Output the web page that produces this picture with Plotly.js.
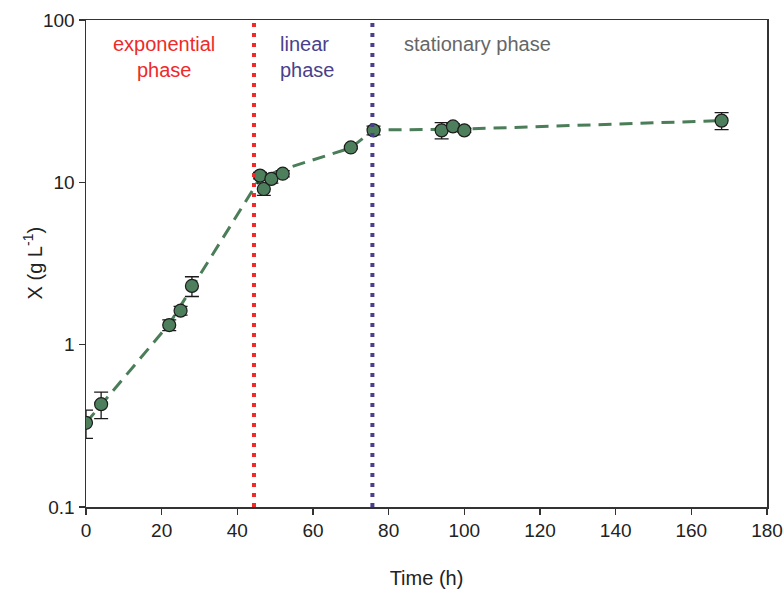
<!DOCTYPE html>
<html>
<head>
<meta charset="utf-8">
<script src="https://cdn.plot.ly/plotly-3.0.1.min.js"></script>
<style>html,body{margin:0;padding:0;background:#fff;}#chart{width:784px;height:591px;}</style>
</head>
<body>
<div id="chart"></div>
<script>
// Measured biomass (g/L)
const timeH = [0, 4, 22, 25, 28, 46, 47, 49, 52, 70, 76, 94, 97, 100, 168];
const biomass = [0.33, 0.43, 1.32, 1.62, 2.3, 11.0, 9.1, 10.5, 11.3, 16.4, 20.9, 20.9, 22.1, 20.9, 24.0];
const biomassErr = [0.065, 0.08, 0.1, 0.1, 0.32, 0.5, 0.8, 0.6, 0.5, 0.3, 1.3, 2.4, 0.8, 0.6, 2.9];

// Model / trend line
const fitTime = [0, 22, 44.5, 46, 52, 70, 76, 100, 168];
const fitBiomass = [0.33, 1.34, 9.3, 10.7, 12.0, 16.3, 21.0, 21.3, 24.0];

// Phase boundaries (h)
const phaseBounds = [44.4, 75.7];
const phaseColors = ['#ee2a2a', '#4a3f8c'];

// Axis ticks
const xTicks = [0, 20, 40, 60, 80, 100, 120, 140, 160, 180];
const yTicks = [0.1, 1, 10, 100];
const yTickText = ['0.1', '1', '10', '100'];

const traces = [
  {
    x: fitTime, y: fitBiomass, type: 'scatter', mode: 'lines',
    line: {color: '#4a7d58', width: 3, dash: '13px,8px'},
    hoverinfo: 'skip', showlegend: false
  },
  {
    x: timeH, y: biomass, type: 'scatter', mode: 'markers',
    marker: {size: 13, color: '#4e7f5c', line: {color: '#1c1c1c', width: 1.2}},
    error_y: {type: 'data', array: biomassErr, visible: true, color: '#1a1a1a', thickness: 1.3, width: 7},
    showlegend: false
  }
];

const shapes = phaseBounds.map((b, i) => ({
  type: 'line', xref: 'x', yref: 'paper', x0: b, x1: b, y0: 0, y1: 1,
  line: {color: phaseColors[i], width: 4, dash: '4px,6px'}
}));

const layout = {
  width: 784, height: 591,
  margin: {l: 86, r: 17, t: 20, b: 84},
  paper_bgcolor: '#fff', plot_bgcolor: '#fff',
  font: {family: 'Liberation Sans, Arial, sans-serif', size: 19, color: '#222'},
  showlegend: false,
  xaxis: {
    range: [0, 180], tickvals: xTicks, ticktext: xTicks.map(String),
    showgrid: false, zeroline: false, showline: true, mirror: true,
    linecolor: '#333', linewidth: 1.5, ticks: 'outside', ticklen: 6, tickcolor: '#333', tickwidth: 1.3,
    title: {text: 'Time (h)', font: {size: 20, color: '#222'}, standoff: 30},
    tickfont: {size: 19, color: '#222'}
  },
  yaxis: {
    type: 'log', range: [-1, 2], tickvals: yTicks, ticktext: yTickText,
    showgrid: false, zeroline: false, showline: true, mirror: true,
    linecolor: '#333', linewidth: 1.5, ticks: 'outside', ticklen: 6, tickcolor: '#333', tickwidth: 1.3,
    tickfont: {size: 19, color: '#222'}
  },
  shapes: shapes,
  annotations: [
    {x: -0.078, y: 0.5, xref: 'paper', yref: 'paper', text: 'X (g L<sup>-1</sup>)', textangle: -90,
     showarrow: false, font: {size: 20, color: '#222'}, xanchor: 'center', yanchor: 'middle'},
    {x: 20.5, y: 0.978, xref: 'x', yref: 'paper', text: 'exponential<br>phase', showarrow: false,
     font: {size: 20, color: '#ee2a2a'}, yanchor: 'top', align: 'center'},
    {x: 50.8, y: 0.978, xref: 'x', yref: 'paper', xanchor: 'left', text: 'linear<br>phase', showarrow: false,
     font: {size: 20, color: '#4a3f8c'}, yanchor: 'top', align: 'left'},
    {x: 103.5, y: 0.978, xref: 'x', yref: 'paper', text: 'stationary phase', showarrow: false,
     font: {size: 20, color: '#666'}, yanchor: 'top', align: 'center'}
  ]
};

Plotly.newPlot('chart', traces, layout, {displayModeBar: false, staticPlot: true});
</script>
</body>
</html>
